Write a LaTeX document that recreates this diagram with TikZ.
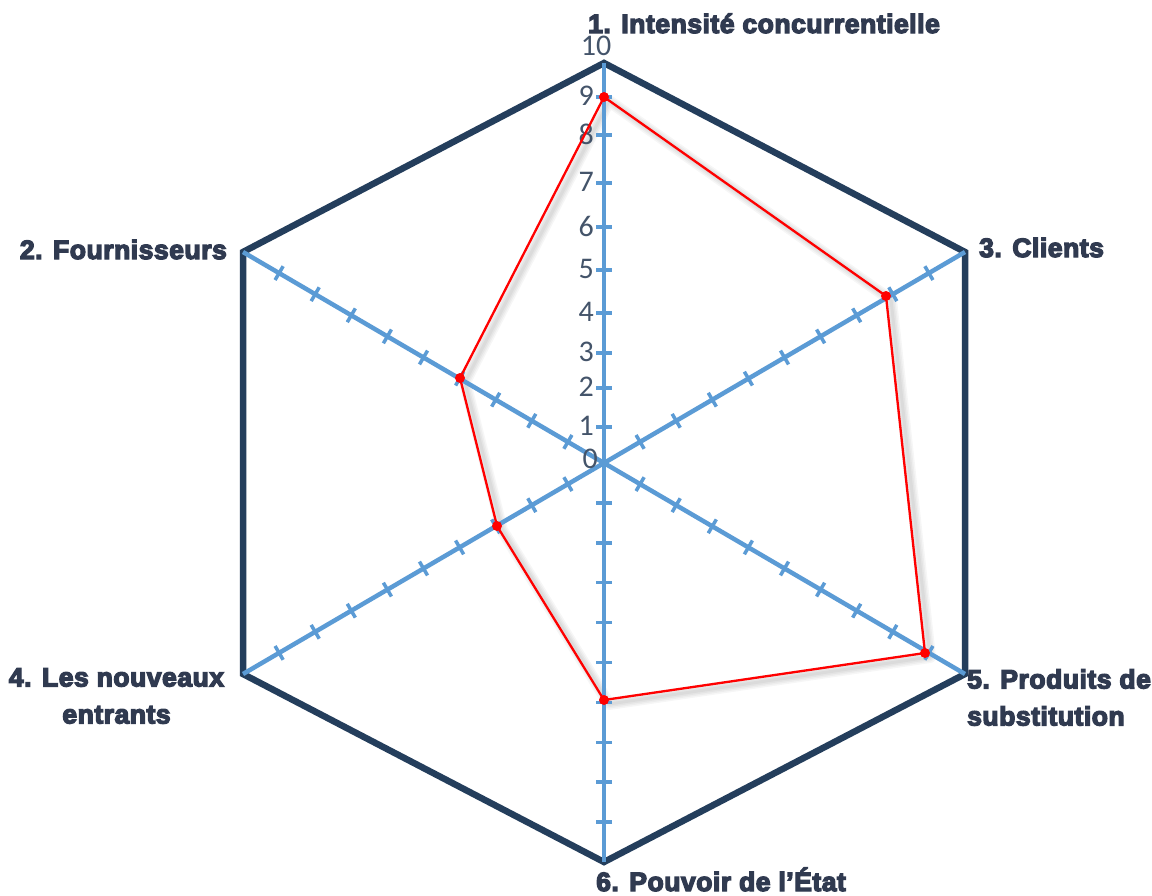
\documentclass[tikz,border=0pt]{standalone}
\usepackage{fontspec}
\setmainfont{Liberation Sans}
\newfontfamily\heavyfont[FakeBold=5,LetterSpace=2]{Liberation Sans Bold}
\newfontfamily\numfont{Carlito}
\usetikzlibrary{calc}
\definecolor{hexline}{RGB}{36,62,92}
\definecolor{axisblue}{RGB}{91,155,213}
\definecolor{labeltext}{RGB}{48,58,80}
\definecolor{numtext}{RGB}{68,84,106}
\definecolor{serie}{RGB}{255,0,0}

\begin{document}
\begin{tikzpicture}[x=1pt,y=-1pt,
  frame/.style={draw=hexline,line width=6.5pt,line join=miter},
  axisline/.style={draw=axisblue,line width=4.5pt},
  tickmark/.style={draw=axisblue,line width=3.5pt},
  axislabel/.style={text=labeltext,font=\heavyfont\fontsize{26.5pt}{37pt}\selectfont,inner sep=0pt},
  ticklabel/.style={text=numtext,font=\numfont\fontsize{30pt}{32pt}\selectfont,inner sep=0pt,anchor=east},
  dataline/.style={draw=serie,line width=2.3pt,line join=round},
  datadot/.style={fill=serie},
  shade line/.style={draw=black,line join=round,opacity=0.035},
]
\useasboundingbox[fill=white] (0,0) rectangle (1152,895);

% centre and the six axis ends
\coordinate (O)  at (604,463);
\coordinate (v1) at (604,63);
\coordinate (v2) at (243,252);
\coordinate (v3) at (965,252);
\coordinate (v4) at (243,674);
\coordinate (v5) at (965,674);
\coordinate (v6) at (604,862);

% scores on each axis
\coordinate (p1) at (604,97);
\coordinate (p3) at (886,296);
\coordinate (p5) at (925,653);
\coordinate (p6) at (604,700);
\coordinate (p4) at (497,526);
\coordinate (p2) at (460,378);

% outer hexagon
\draw[frame] (v1) -- (v3) -- (v5) -- (v6) -- (v4) -- (v2) -- cycle;

% soft shadow of the score polygon
\foreach \w in {12,9,6,3}
  \draw[shade line,line width=\w pt]
    ($(p1)+(5,4)$) -- ($(p3)+(5,4)$) -- ($(p5)+(5,4)$) -- ($(p6)+(5,4)$)
    -- ($(p4)+(5,4)$) -- ($(p2)+(5,4)$) -- cycle;

% spokes
\foreach \i in {1,...,6}
  \draw[axisline] (O) -- (v\i);

% graduations of the labelled axis
\foreach \f/\n in {0.09/1,0.1875/2,0.275/3,0.375/4,0.4825/5,0.59/6,0.70/7,0.82/8,0.915/9}{
  \draw[tickmark] ($(O)!\f!(v1)!8pt!90:(v1)$) -- ($(O)!\f!(v1)!8pt!-90:(v1)$);
  \node[ticklabel] (t\n) at ($(O)!\f!(v1)+(-10,-1)$) {\n};
}
\node[ticklabel] (t0) at (598,459) {0};
\node[text=numtext,font=\numfont\fontsize{30pt}{32pt}\selectfont,inner sep=0pt] (t10) at (596,46) {10};

% graduations of the other axes
\foreach \i in {2,...,6}
  \foreach \k in {1,...,9}
    \draw[tickmark] ($(O)!\k/10!(v\i)!8pt!90:(v\i)$) -- ($(O)!\k/10!(v\i)!8pt!-90:(v\i)$);

% score polygon
\draw[dataline] (p1) -- (p3) -- (p5) -- (p6) -- (p4) -- (p2) -- cycle;
\foreach \p in {p1,p2,p3,p4,p5,p6}
  \fill[datadot] (\p) circle[radius=5pt];

% axis titles
\node[axislabel,anchor=base west] (l1) at (588,33) {1. Intensité concurrentielle};
\node[axislabel,anchor=base east] (l2) at (227,259) {2. Fournisseurs};
\node[axislabel,anchor=base west] (l3) at (979,257) {3. Clients};
\node[axislabel,align=center,anchor=north] (l4) at (116.5,668) {4. Les nouveaux\\entrants};
\node[axislabel,align=left,anchor=north west] (l5) at (967,669) {5. Produits de\\substitution};
\node[axislabel,anchor=base west] (l6) at (596,891) {6. Pouvoir de l’État};
\end{tikzpicture}
\end{document}
